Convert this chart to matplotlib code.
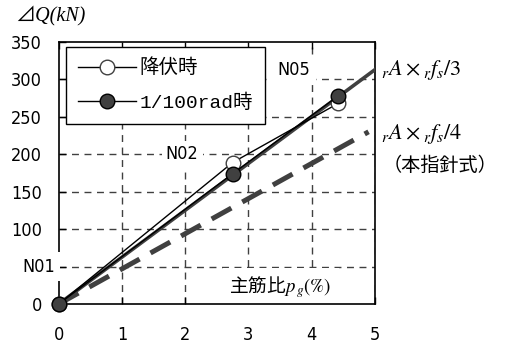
import matplotlib.pyplot as plt
from matplotlib.lines import Line2D

plt.rcParams['mathtext.fontset'] = 'stix'

# data
pg = [0, 2.75, 4.42]
q_yield = [0, 189, 268]
q_100rad = [0, 174, 278]
formula_x = [0, 5.0]
formula3_q = [0, 313]
formula4_x = [0, 4.9]
formula4_q = [0, 230]

xticks = [0, 1, 2, 3, 4, 5]
yticks = [0, 50, 100, 150, 200, 250, 300, 350]
ytick_labels = ['0', '', '100', '150', '200', '250', '300', '350']

gray = '#404040'
num_font = dict(family='DejaVu Sans', stretch='condensed', fontsize=13)
cjk = ['Noto Sans CJK JP', 'DejaVu Sans']

fig = plt.figure(figsize=(5.08, 3.43), dpi=100)
ax = fig.add_axes([0.1156, 0.1137, 0.738 - 0.1156, 0.8776 - 0.1137])

ax.set_xlim(0, 5)
ax.set_ylim(0, 350)
ax.set_xticks(xticks)
ax.set_yticks(yticks)
ax.set_xticklabels([str(v) for v in xticks], **num_font)
ax.set_yticklabels(ytick_labels, **num_font)
ax.tick_params(direction='in', length=5, width=1, top=True, right=False)
ax.tick_params(axis='y', pad=12)
ax.tick_params(axis='x', pad=16)

for v in xticks[1:]:
    ax.axvline(v, color=gray, lw=1, ls=(0, (5, 4)), zorder=1)
for v in yticks[1:-1]:
    ax.axhline(v, color=gray, lw=1, ls=(0, (5, 4)), zorder=1)
for s in ax.spines.values():
    s.set_linewidth(1.2)

# formula lines
ax.plot(formula_x, formula3_q, color=gray, lw=2.6, zorder=3)
ax.plot(formula4_x, formula4_q, color=gray, lw=3.6, ls=(0, (4.5, 2.5)), zorder=3)

# test results
ax.plot(pg, q_yield, color='black', lw=1, marker='o', ms=10.5, mfc='white',
        mec=gray, mew=1, zorder=4, clip_on=False)
ax.plot(pg, q_100rad, color='black', lw=1, marker='o', ms=10.5, mfc=gray,
        mec='black', mew=1, zorder=5, clip_on=False)

# specimen labels
ax.text(-0.32, 50, 'N01', ha='center', va='center', **num_font,
        bbox=dict(facecolor='white', edgecolor='none', pad=4), zorder=6, clip_on=False)
ax.text(1.95, 200, 'N02', ha='center', va='center', **num_font,
        bbox=dict(facecolor='white', edgecolor='none', pad=3), zorder=2)
ax.text(3.72, 312, 'N05', ha='center', va='center', **num_font,
        bbox=dict(facecolor='white', edgecolor='none', pad=4), zorder=2)

# axis labels
fig.text(0.03, 0.955, '⊿Q(kN)', fontsize=14.5, style='italic',
         family=['Liberation Serif', 'Noto Sans CJK JP'], va='center')
ax.text(2.7, 22, '主筋比$p_{\\,g}(\\%)$', family=cjk, fontsize=13.5, ha='left', va='center',
        bbox=dict(facecolor='white', edgecolor='none', pad=5), zorder=2)

# formula labels
fig.text(0.75, 0.795, '$_rA\\times{_rf_s}/3$', fontsize=16, va='center')
fig.text(0.75, 0.61, '$_rA\\times{_rf_s}/4$', fontsize=16, va='center')
fig.text(0.754, 0.517, '（本指針式）', family=cjk, fontsize=13.8, va='center')

handles = [
    Line2D([], [], color='black', lw=1, marker='o', ms=10.5, mfc='white', mec=gray),
    Line2D([], [], color='black', lw=1, marker='o', ms=10.5, mfc=gray, mec='black'),
]
leg = ax.legend(handles, ['降伏時', '1/100rad時'], loc='upper left',
                bbox_to_anchor=(0.023, 0.981), fancybox=False, framealpha=1,
                edgecolor='black', handlelength=3.0, handletextpad=0.2, labelspacing=0.85,
                borderpad=0.6, borderaxespad=0,
                prop={'family': ['Liberation Mono', 'Noto Sans CJK JP'], 'size': 14})
leg.get_frame().set_linewidth(1)
leg.set_zorder(7)

fig.savefig('out.png', dpi=100)
